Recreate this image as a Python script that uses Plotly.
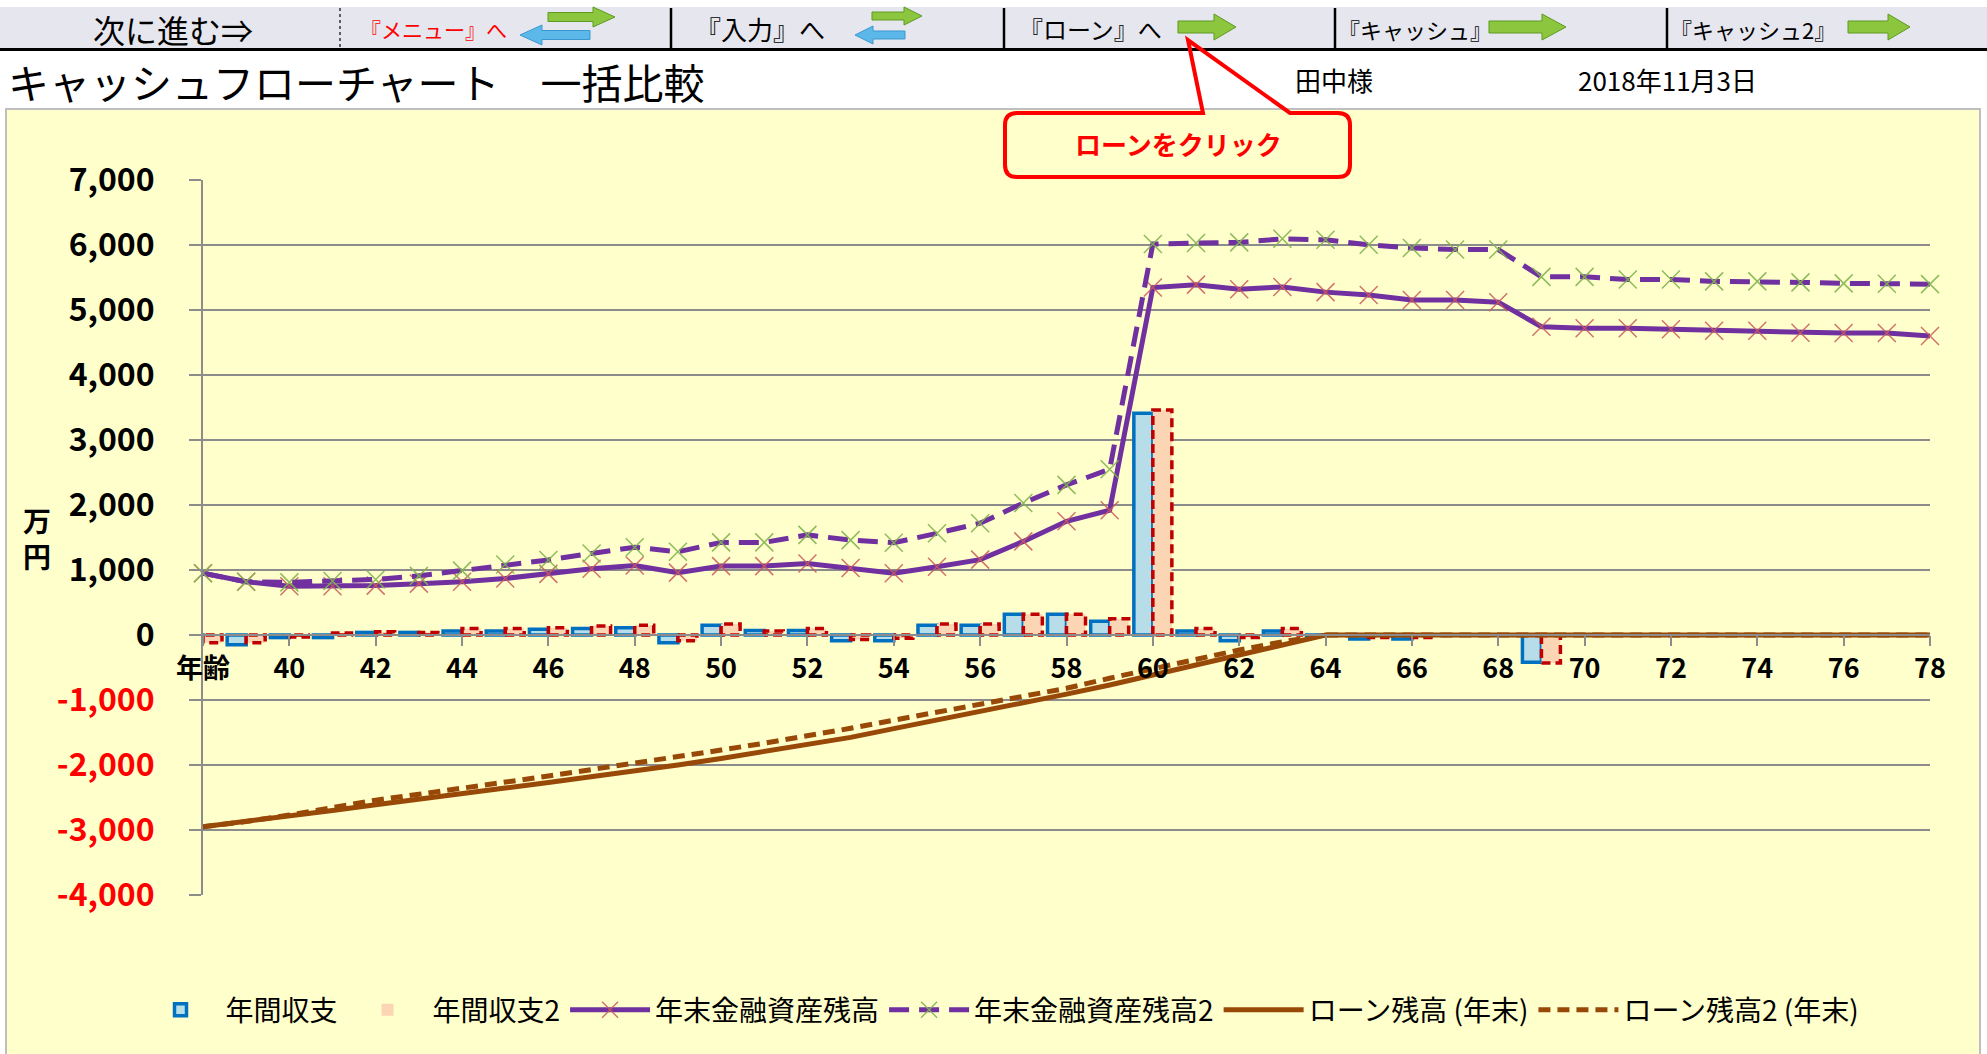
import plotly.graph_objects as go

W, H = 1987, 1054

# ---------------- data ----------------
ages = list(range(38, 79))
age_ticks = list(range(38, 79, 2))
age_tick_labels = ["年齢"] + [str(a) for a in range(40, 79, 2)]

# 年間収支 (万円)
balance1 = [-100, -150, -40, -40, 40, 40, 60, 60, 90, 100,
            110, -120, 150, 70, 70, -90, -90, 150, 150, 320,
            320, 210, 3410, 60, -90, 60, -10, -60, -60, 0,
            0, -420, 0, 0, 0, 0, 0, 0, 0, 0,
            0]
# 年間収支2
balance2 = [-120, -120, -30, 30, 50, 40, 100, 100, 110, 140,
            150, -90, 170, 60, 100, -70, -50, 170, 170, 320,
            320, 250, 3460, 100, -40, 100, 0, -40, -40, 0,
            0, -430, 0, 0, 0, 0, 0, 0, 0, 0,
            0]
# 年末金融資産残高
assets1 = [950, 820, 750, 750, 760, 790, 820, 870, 940, 1020,
           1070, 960, 1060, 1060, 1100, 1030, 950, 1050, 1160, 1440,
           1750, 1920, 5345, 5390, 5320, 5355, 5275, 5230, 5155, 5155,
           5120, 4742, 4718, 4718, 4705, 4682, 4682, 4650, 4645, 4645,
           4600]
# 年末金融資産残高2
assets2 = [950, 820, 810, 830, 855, 910, 990, 1085, 1155, 1255,
           1350, 1280, 1425, 1425, 1540, 1460, 1420, 1565, 1720, 2030,
           2310, 2550, 6015, 6030, 6040, 6095, 6080, 6003, 5955, 5930,
           5930, 5510, 5510, 5470, 5470, 5440, 5440, 5425, 5410, 5405,
           5398]
# ローン残高 (年末)
loan1 = [-2950, -2870, -2790, -2700, -2610, -2520, -2440, -2355, -2270, -2185,
         -2100, -2000, -1900, -1795, -1685, -1575, -1440, -1310, -1180, -1050,
         -910, -770, -615, -460, -305, -145, 0, 0, 0, 0,
         0, 0, 0, 0, 0, 0, 0, 0, 0, 0,
         0]
# ローン残高2 (年末)
loan2 = [-2950, -2870, -2770, -2650, -2540, -2450, -2360, -2265, -2170, -2070,
         -1975, -1870, -1770, -1665, -1555, -1435, -1310, -1190, -1060, -950,
         -820, -665, -515, -375, -230, -105, 0, 0, 0, 0,
         0, 0, 0, 0, 0, 0, 0, 0, 0, 0,
         0]

y_ticks = list(range(-4000, 7001, 1000))
y_tick_labels = [(f'<span style="color:#FF0000">{v:,}</span>' if v < 0 else f"{v:,}") for v in y_ticks]

series_names = ["年間収支", "年間収支2", "年末金融資産残高", "年末金融資産残高2",
                "ローン残高 (年末)", "ローン残高2 (年末)"]

# ---------------- styles ----------------
FONT = "Noto Sans CJK JP"
BLUE_FILL, BLUE_LINE = "#B7DEE8", "#0070C0"
RED_FILL, RED_LINE = "#FCD5B4", "#C00000"
PURPLE = "#7030A0"
BROWN = "#984807"
GRID = "#8C8C8C"
BARGAP = 0.12
bw = (1 - BARGAP) / 2


def X(px):
    return px / W


def Y(py):
    return 1 - py / H


fig = go.Figure()

fig.add_trace(go.Bar(
    x=ages, y=balance1, name=series_names[0], offset=-bw, width=bw,
    marker=dict(color=BLUE_FILL, line=dict(color=BLUE_LINE, width=3.5)),
))
fig.add_trace(go.Bar(
    x=ages, y=balance2, name=series_names[1], offset=0, width=bw,
    marker=dict(color=RED_FILL, line=dict(color=RED_FILL, width=0)),
))
# dashed outline of 年間収支2 bars
ox, oy = [], []
for a, v in zip(ages, balance2):
    ox += [a, a, a + bw, a + bw, a, None]
    oy += [0, v, v, 0, 0, None]
fig.add_trace(go.Scatter(
    x=ox, y=oy, mode="lines", showlegend=False, hoverinfo="skip",
    line=dict(color=RED_LINE, width=3.5, dash="9px,5px"),
))

fig.add_trace(go.Scatter(
    x=ages, y=assets1, name=series_names[2], mode="lines+markers", cliponaxis=False,
    line=dict(color=PURPLE, width=5),
    marker=dict(symbol="x-thin", size=18, color="#C0504D",
                line=dict(color="rgba(200,90,90,0.85)", width=1.5)),
))
fig.add_trace(go.Scatter(
    x=ages, y=assets2, name=series_names[3], mode="lines+markers", cliponaxis=False,
    line=dict(color=PURPLE, width=5, dash="20px,10px"),
    marker=dict(symbol="x-thin", size=18, color="#9BBB59",
                line=dict(color="rgba(130,180,80,0.9)", width=1.5)),
))
fig.add_trace(go.Scatter(
    x=ages, y=loan1, name=series_names[4], mode="lines", cliponaxis=False,
    line=dict(color=BROWN, width=5),
))
fig.add_trace(go.Scatter(
    x=ages, y=loan2, name=series_names[5], mode="lines", cliponaxis=False,
    line=dict(color=BROWN, width=5, dash="12px,7px"),
))

# ---------------- page decorations ----------------
shapes = []


def rect(x0, y0, x1, y1, fill, line_color=None, lw=0, layer="below"):
    shapes.append(dict(type="rect", xref="paper", yref="paper",
                       x0=X(x0), x1=X(x1), y0=Y(y1), y1=Y(y0),
                       fillcolor=fill, layer=layer,
                       line=dict(color=line_color or fill, width=lw)))


def hline(x0, x1, y, color, lw, dash="solid", layer="below"):
    shapes.append(dict(type="line", xref="paper", yref="paper",
                       x0=X(x0), x1=X(x1), y0=Y(y), y1=Y(y), layer=layer,
                       line=dict(color=color, width=lw, dash=dash)))


def vline(x, y0, y1, color, lw, dash="solid", layer="below"):
    shapes.append(dict(type="line", xref="paper", yref="paper",
                       x0=X(x), x1=X(x), y0=Y(y0), y1=Y(y1), layer=layer,
                       line=dict(color=color, width=lw, dash=dash)))


def path(points, fill, line_color, lw, closed=True, layer="above"):
    d = "M " + " L ".join(f"{X(px):.5f},{Y(py):.5f}" for px, py in points)
    if closed:
        d += " Z"
    shapes.append(dict(type="path", xref="paper", yref="paper", path=d,
                       fillcolor=fill, layer=layer,
                       line=dict(color=line_color, width=lw)))


def arrow(x0, x1, yc, shaft, head, hl, fill, edge, direction=1):
    if direction == 1:
        pts = [(x0, yc - shaft / 2), (x1 - hl, yc - shaft / 2), (x1 - hl, yc - head / 2),
               (x1, yc), (x1 - hl, yc + head / 2), (x1 - hl, yc + shaft / 2), (x0, yc + shaft / 2)]
    else:
        pts = [(x1, yc - shaft / 2), (x0 + hl, yc - shaft / 2), (x0 + hl, yc - head / 2),
               (x0, yc), (x0 + hl, yc + head / 2), (x0 + hl, yc + shaft / 2), (x1, yc + shaft / 2)]
    path(pts, fill, edge, 1)


# nav bar
rect(0, 7, W, 48, "#E6E6EE")
hline(0, W, 49.5, "#000000", 3)
vline(340, 8, 48, "#333333", 1.5, dash="dot")
for xs in (671, 1004, 1335, 1667):
    vline(xs, 8, 48, "#000000", 2.5)
# yellow chart area
rect(6, 109, 1980, 1060, "#FFFFCC", "#BFBFBF", 2)

# nav arrows
GREEN, GREEN_EDGE = "#8CC63F", "#5E9A22"
BLUEA, BLUEA_EDGE = "#5BB8E8", "#3A98D0"
arrow(548, 615, 17, 9, 20, 22, GREEN, GREEN_EDGE, 1)
arrow(520, 590, 35, 9, 20, 22, BLUEA, BLUEA_EDGE, -1)
arrow(872, 922, 16, 8, 18, 18, GREEN, GREEN_EDGE, 1)
arrow(855, 905, 35, 8, 18, 18, BLUEA, BLUEA_EDGE, -1)
arrow(1178, 1236, 27, 12, 26, 22, GREEN, GREEN_EDGE, 1)
arrow(1489, 1566, 27, 12, 26, 24, GREEN, GREEN_EDGE, 1)
arrow(1848, 1910, 27, 12, 26, 22, GREEN, GREEN_EDGE, 1)

# callout
r = 12
bx0, by0, bx1, by1 = 1005, 113, 1350, 177
callout_d = (f"M {X(bx0 + r)},{Y(by0)} L {X(1203)},{Y(by0)} L {X(1188)},{Y(40)} "
             f"L {X(1290)},{Y(by0)} L {X(bx1 - r)},{Y(by0)} "
             f"Q {X(bx1)},{Y(by0)} {X(bx1)},{Y(by0 + r)} L {X(bx1)},{Y(by1 - r)} "
             f"Q {X(bx1)},{Y(by1)} {X(bx1 - r)},{Y(by1)} L {X(bx0 + r)},{Y(by1)} "
             f"Q {X(bx0)},{Y(by1)} {X(bx0)},{Y(by1 - r)} L {X(bx0)},{Y(by0 + r)} "
             f"Q {X(bx0)},{Y(by0)} {X(bx0 + r)},{Y(by0)} Z")
shapes.append(dict(type="path", xref="paper", yref="paper", path=callout_d,
                   fillcolor="rgba(0,0,0,0)", layer="above",
                   line=dict(color="#FF0000", width=4)))

annotations = []


def text(t, px, py, size, color="#000000", anchor="left", bold=False):
    annotations.append(dict(text=(f"<b>{t}</b>" if bold else t), xref="paper", yref="paper",
                            x=X(px), y=Y(py), xanchor=anchor, yanchor="middle",
                            showarrow=False, font=dict(family=FONT, size=size, color=color)))


text("次に進む⇒", 173, 29, 32, anchor="center")
text("『メニュー』へ", 358, 29, 21, color="#FF0000")
text("『入力』へ", 693, 29, 26)
text("『ローン』へ", 1017, 29, 24)
text("『キャッシュ』", 1336, 29, 22)
text("『キャッシュ2』", 1668, 29, 22)
text("キャッシュフローチャート　一括比較", 6, 81, 41)
text("田中様", 1293, 79, 26)
text("2018年11月3日", 1576, 79, 26)
text("ローンをクリック", 1178, 144, 26, color="#FF0000", anchor="center", bold=True)
text("万<br>円", 37, 538, 28, anchor="center", bold=True)

fig.update_layout(
    template="none",
    width=W, height=H, autosize=False,
    margin=dict(l=0, r=0, t=0, b=0, pad=0, autoexpand=False),
    paper_bgcolor="#FFFFFF",
    plot_bgcolor="rgba(0,0,0,0)",
    font=dict(family=FONT, color="#000000"),
    barmode="overlay",
    showlegend=True,
    legend=dict(orientation="h", x=X(1000), xanchor="center", y=Y(1010), yanchor="middle",
                font=dict(family=FONT, size=28, color="#000000"),
                bgcolor="rgba(0,0,0,0)", itemwidth=80, tracegroupgap=0),
    shapes=shapes,
    annotations=annotations,
    xaxis=dict(
        domain=[X(203), X(1930)], range=[38, 78], type="linear",
        tickvals=age_ticks, ticktext=age_tick_labels,
        anchor="free", position=Y(635), automargin=False,
        showline=True, linecolor=GRID, linewidth=2,
        ticks="outside", ticklen=10, tickwidth=2, tickcolor=GRID,
        showgrid=False, zeroline=False,
        tickfont=dict(family=FONT, size=27, color="#000000", weight="bold"),
    ),
    yaxis=dict(
        domain=[Y(895), Y(180)], range=[-4000, 7000], automargin=False,
        tickvals=y_ticks, ticktext=y_tick_labels,
        showgrid=True, gridcolor=GRID, gridwidth=2,
        zeroline=False,
        showline=True, linecolor=GRID, linewidth=2,
        ticks="outside", ticklen=12, tickwidth=2, tickcolor=GRID,
        ticklabelstandoff=28,
        tickfont=dict(family=FONT, size=32, color="#000000", weight="bold"),
    ),
)

fig.write_html("out.html", config={"displayModeBar": False},
               post_script="document.body.style.margin='0';document.body.style.overflow='hidden';")
